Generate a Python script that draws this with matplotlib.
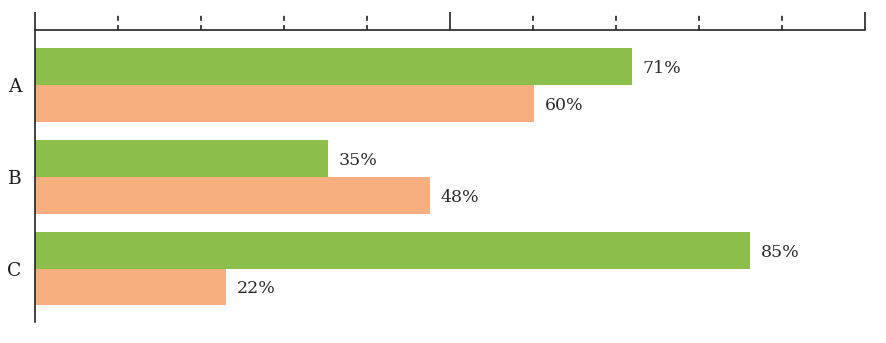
import matplotlib
matplotlib.use("Agg")
import matplotlib.pyplot as plt
import matplotlib.transforms as mtransforms
import numpy as np

categories = ["A", "B", "C"]
series1 = [71.9, 35.3, 86.1]   # green (bar lengths as drawn)
series2 = [60.1, 47.6, 23.0]   # orange (bar lengths as drawn)
labels1 = ["71%", "35%", "85%"]
labels2 = ["60%", "48%", "22%"]
major_ticks = [0, 50, 100]
minor_ticks = [10, 20, 30, 40, 60, 70, 80, 90]

green = "#8BBE4B"
orange = "#F8AF80"
txt = "#2b2b2b"

plt.rcParams['font.family'] = ['DejaVu Serif']

fig = plt.figure(figsize=(8.87, 3.43), dpi=100)
ax = fig.add_axes([35/887, 1-322/343, 830/887, 292/343])

y = np.arange(len(categories))
h = 0.40
ax.barh(y - h/2, series1, height=h, color=green, edgecolor='none')
ax.barh(y + h/2, series2, height=h, color=orange, edgecolor='none')

for yi, v, lab in zip(y, series1, labels1):
    ax.text(v + 1.3, yi - h/2 + 0.02, lab, va='center', ha='left', fontsize=12.5, color=txt)
for yi, v, lab in zip(y, series2, labels2):
    ax.text(v + 1.3, yi + h/2 + 0.02, lab, va='center', ha='left', fontsize=12.5, color=txt)

ax.set_xlim(0, 100)
ax.set_ylim(2.58, -0.6)

ax.set_yticks(y)
ax.set_yticklabels(categories, fontsize=13.5, color='#1e1e1e')
ax.tick_params(axis='y', length=0, pad=9.5)

ax.xaxis.tick_top()
ax.set_xticks(major_ticks)
ax.set_xticklabels([])
ax.tick_params(axis='x', direction='out', length=13, width=1.2, color='#222222')

trans = mtransforms.blended_transform_factory(ax.transData, ax.transAxes)
ax.vlines(minor_ticks, 1.0, 1.0 + 16/292, transform=trans, colors='#222222',
          linewidth=1.2, linestyles=(0, (3, 2.5)), clip_on=False)

for s in ['right', 'bottom']:
    ax.spines[s].set_visible(False)
ax.spines['top'].set_linewidth(1.2)
ax.spines['left'].set_linewidth(1.2)
ax.spines['top'].set_color('#222222')
ax.spines['left'].set_color('#222222')

fig.savefig("out.png", dpi=100, facecolor='white')
